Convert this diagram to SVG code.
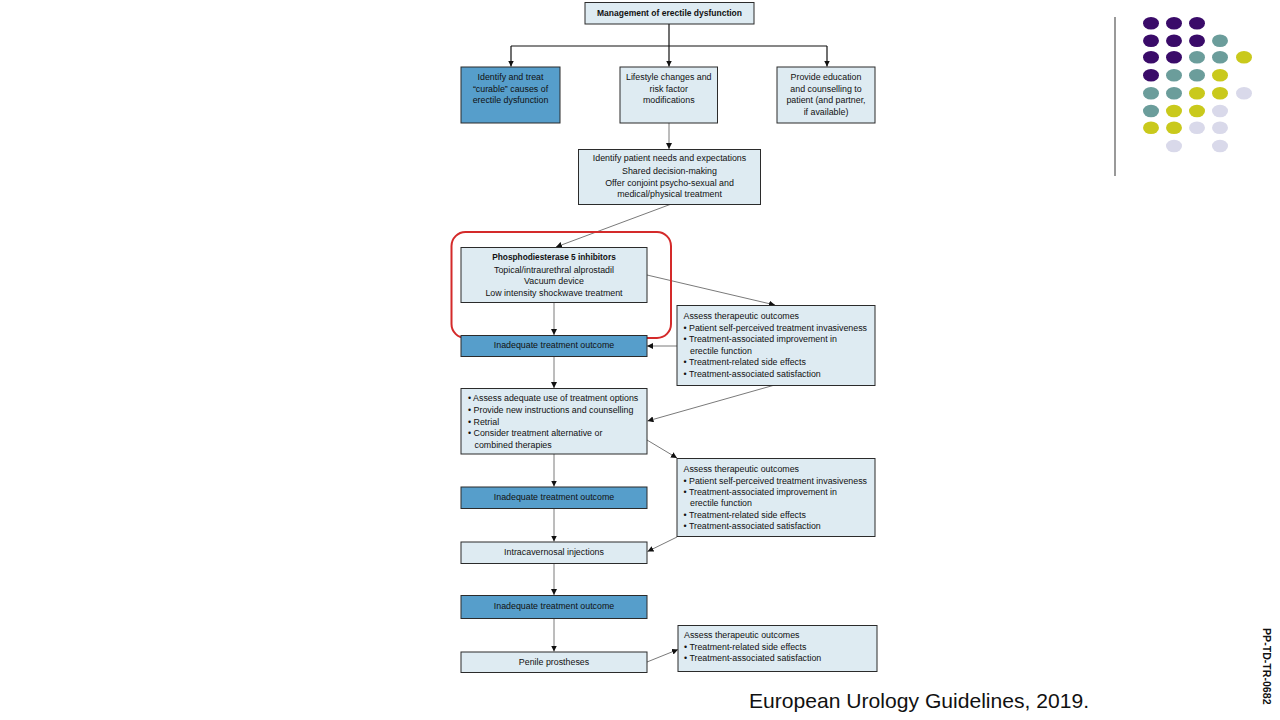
<svg xmlns="http://www.w3.org/2000/svg" width="1280" height="720" viewBox="0 0 1280 720">
<style>
.bg{fill:#ffffff}
.lt{fill:#deebf2;stroke:#2b2b2b;stroke-width:1}
.dk{fill:#569ecb;stroke:#2b2b2b;stroke-width:1}
.t{font-family:"Liberation Sans",Arial,sans-serif;font-size:8.85px;fill:#111}
.c{text-anchor:middle}
.b{font-weight:bold;font-size:8.3px}
.ln{stroke:#7a7a7a;stroke-width:1;fill:none}
.lk{stroke:#111;stroke-width:1.2;fill:none}
.pu{fill:#3a0b69}.te{fill:#6b9d9b}.ye{fill:#c9c91c}.la{fill:#d9d9ea}
</style>
<defs>
<marker id="ah" viewBox="0 0 10 10" refX="10" refY="5" markerWidth="6" markerHeight="6" orient="auto" markerUnits="userSpaceOnUse">
<path d="M0,0 L10,5 L0,10 z" fill="#111"/>
</marker>
</defs>
<rect class="bg" x="0" y="0" width="1280" height="720"/>

<g id="connectors">
<path class="lk" d="M669,24 V46"/>
<path class="lk" d="M511,46 H827"/>
<path class="lk" d="M511,46 V66.5" marker-end="url(#ah)"/>
<path class="lk" d="M669,46 V66.5" marker-end="url(#ah)"/>
<path class="lk" d="M827,46 V66.5" marker-end="url(#ah)"/>
<path class="ln" d="M669,123 V149" marker-end="url(#ah)"/>
<path class="ln" d="M670,204.5 L556,247" marker-end="url(#ah)"/>
<path class="ln" d="M554,302.5 V335" marker-end="url(#ah)"/>
<path class="ln" d="M647,275 L775,305" marker-end="url(#ah)"/>
<path class="ln" d="M677,346 H647" marker-end="url(#ah)"/>
<path class="ln" d="M554,356.5 V388" marker-end="url(#ah)"/>
<path class="ln" d="M773,385.5 L647.5,421" marker-end="url(#ah)"/>
<path class="ln" d="M647,440 L677,458" marker-end="url(#ah)"/>
<path class="ln" d="M554,454 V486.5" marker-end="url(#ah)"/>
<path class="ln" d="M554,508.5 V541.5" marker-end="url(#ah)"/>
<path class="ln" d="M677,537 L647.5,551.5" marker-end="url(#ah)"/>
<path class="ln" d="M554,563.5 V595" marker-end="url(#ah)"/>
<path class="ln" d="M554,618.5 V651.5" marker-end="url(#ah)"/>
<path class="ln" d="M647,662 L678,649.5" marker-end="url(#ah)"/>
</g>

<g id="n-title">
<rect class="lt" x="585" y="2.5" width="169" height="21.5"/>
<text class="t c b" x="669.5" y="16" style="font-size:8.5px">Management of erectile dysfunction</text>
</g>

<g id="n-curable">
<rect class="dk" x="461" y="67" width="99" height="56"/>
<text class="t c" x="510.5" y="80">Identify and treat</text>
<text class="t c" x="510.5" y="91.5">“curable” causes of</text>
<text class="t c" x="510.5" y="103">erectile dysfunction</text>
</g>

<g id="n-lifestyle">
<rect class="lt" x="620" y="67" width="97.5" height="56"/>
<text class="t c" x="668.75" y="80">Lifestyle changes and</text>
<text class="t c" x="668.75" y="91.5">risk factor</text>
<text class="t c" x="668.75" y="103">modifications</text>
</g>

<g id="n-education">
<rect class="lt" x="777" y="67" width="98" height="56"/>
<text class="t c" x="826" y="80">Provide education</text>
<text class="t c" x="826" y="91.5">and counselling to</text>
<text class="t c" x="826" y="103">patient (and partner,</text>
<text class="t c" x="826" y="114.5">if available)</text>
</g>

<g id="n-needs">
<rect class="lt" x="578.5" y="149.5" width="182" height="55"/>
<text class="t c" x="669.5" y="161">Identify patient needs and expectations</text>
<text class="t c" x="669.5" y="173.5">Shared decision-making</text>
<text class="t c" x="669.5" y="185.5">Offer conjoint psycho-sexual and</text>
<text class="t c" x="669.5" y="197">medical/physical treatment</text>
</g>

<g id="n-pde5">
<rect class="lt" x="461" y="247.5" width="186" height="55"/>
<text class="t c b" x="554" y="260">Phosphodiesterase 5 inhibitors</text>
<text class="t c" x="554" y="272.5">Topical/intraurethral alprostadil</text>
<text class="t c" x="554" y="284">Vacuum device</text>
<text class="t c" x="554" y="295.5">Low intensity shockwave treatment</text>
</g>

<g id="highlight">
<rect x="451.5" y="232" width="219.5" height="106" rx="14" ry="14" fill="none" stroke="#d42a2a" stroke-width="2"/>
</g>

<g id="n-inad1">
<rect class="dk" x="461" y="335.5" width="186" height="21"/>
<text class="t c" x="554" y="347.5">Inadequate treatment outcome</text>
</g>

<g id="n-assess1">
<rect class="lt" x="677" y="305.5" width="198" height="80"/>
<text class="t" x="683.5" y="318.5">Assess therapeutic outcomes</text>
<text class="t" x="683.5" y="330.5">• Patient self-perceived treatment invasiveness</text>
<text class="t" x="683.5" y="342">• Treatment-associated improvement in</text>
<text class="t" x="690" y="353.5">erectile function</text>
<text class="t" x="683.5" y="365">• Treatment-related side effects</text>
<text class="t" x="683.5" y="376.5">• Treatment-associated satisfaction</text>
</g>

<g id="n-adequate">
<rect class="lt" x="461" y="388.5" width="186" height="65.5"/>
<text class="t" x="468" y="401">• Assess adequate use of treatment options</text>
<text class="t" x="468" y="412.5">• Provide new instructions and counselling</text>
<text class="t" x="468" y="424.5">• Retrial</text>
<text class="t" x="468" y="436">• Consider treatment alternative or</text>
<text class="t" x="474.5" y="447.5">combined therapies</text>
</g>

<g id="n-assess2">
<rect class="lt" x="677" y="458.5" width="198" height="78"/>
<text class="t" x="683.5" y="471.5">Assess therapeutic outcomes</text>
<text class="t" x="683.5" y="483.5">• Patient self-perceived treatment invasiveness</text>
<text class="t" x="683.5" y="495">• Treatment-associated improvement in</text>
<text class="t" x="690" y="506">erectile function</text>
<text class="t" x="683.5" y="517.5">• Treatment-related side effects</text>
<text class="t" x="683.5" y="529">• Treatment-associated satisfaction</text>
</g>

<g id="n-inad2">
<rect class="dk" x="461" y="487" width="186" height="21.5"/>
<text class="t c" x="554" y="500">Inadequate treatment outcome</text>
</g>

<g id="n-ici">
<rect class="lt" x="461" y="542" width="186" height="21.5"/>
<text class="t c" x="554" y="555">Intracavernosal injections</text>
</g>

<g id="n-inad3">
<rect class="dk" x="461" y="595.5" width="186" height="23"/>
<text class="t c" x="554" y="609">Inadequate treatment outcome</text>
</g>

<g id="n-penile">
<rect class="lt" x="461" y="652" width="186" height="20.5"/>
<text class="t c" x="554" y="665">Penile prostheses</text>
</g>

<g id="n-assess3">
<rect class="lt" x="678" y="625.5" width="199" height="46"/>
<text class="t" x="684" y="638">Assess therapeutic outcomes</text>
<text class="t" x="684" y="649.5">• Treatment-related side effects</text>
<text class="t" x="684" y="661">• Treatment-associated satisfaction</text>
</g>

<g id="decoration">
<line x1="1115" y1="17" x2="1115" y2="176" stroke="#555" stroke-width="1.2"/>
<ellipse class="pu" cx="1151" cy="23.3" rx="8" ry="6.3"/>
<ellipse class="pu" cx="1174" cy="23.3" rx="8" ry="6.3"/>
<ellipse class="pu" cx="1197" cy="23.3" rx="8" ry="6.3"/>
<ellipse class="pu" cx="1151" cy="40.7" rx="8" ry="6.3"/>
<ellipse class="pu" cx="1174" cy="40.7" rx="8" ry="6.3"/>
<ellipse class="pu" cx="1197" cy="40.7" rx="8" ry="6.3"/>
<ellipse class="te" cx="1220" cy="40.7" rx="8" ry="6.3"/>
<ellipse class="pu" cx="1151" cy="57.3" rx="8" ry="6.3"/>
<ellipse class="pu" cx="1174" cy="57.3" rx="8" ry="6.3"/>
<ellipse class="te" cx="1197" cy="57.3" rx="8" ry="6.3"/>
<ellipse class="te" cx="1220" cy="57.3" rx="8" ry="6.3"/>
<ellipse class="ye" cx="1244" cy="57.3" rx="8" ry="6.3"/>
<ellipse class="pu" cx="1151" cy="75.3" rx="8" ry="6.3"/>
<ellipse class="te" cx="1174" cy="75.3" rx="8" ry="6.3"/>
<ellipse class="te" cx="1197" cy="75.3" rx="8" ry="6.3"/>
<ellipse class="ye" cx="1220" cy="75.3" rx="8" ry="6.3"/>
<ellipse class="te" cx="1151" cy="93.3" rx="8" ry="6.3"/>
<ellipse class="te" cx="1174" cy="93.3" rx="8" ry="6.3"/>
<ellipse class="ye" cx="1197" cy="93.3" rx="8" ry="6.3"/>
<ellipse class="ye" cx="1220" cy="93.3" rx="8" ry="6.3"/>
<ellipse class="la" cx="1244" cy="93.3" rx="8" ry="6.3"/>
<ellipse class="te" cx="1151" cy="111" rx="8" ry="6.3"/>
<ellipse class="ye" cx="1174" cy="111" rx="8" ry="6.3"/>
<ellipse class="ye" cx="1197" cy="111" rx="8" ry="6.3"/>
<ellipse class="la" cx="1220" cy="111" rx="8" ry="6.3"/>
<ellipse class="ye" cx="1151" cy="127.7" rx="8" ry="6.3"/>
<ellipse class="ye" cx="1174" cy="127.7" rx="8" ry="6.3"/>
<ellipse class="la" cx="1197" cy="127.7" rx="8" ry="6.3"/>
<ellipse class="la" cx="1220" cy="127.7" rx="8" ry="6.3"/>
<ellipse class="la" cx="1174" cy="146" rx="8" ry="6.3"/>
<ellipse class="la" cx="1220" cy="146" rx="8" ry="6.3"/>
</g>

<text x="749" y="708" font-family="Liberation Sans, Arial, sans-serif" font-size="21.1" fill="#111">European Urology Guidelines, 2019.</text>
<text transform="translate(1263,628) rotate(90)" font-family="Liberation Sans, Arial, sans-serif" font-size="10.6" font-weight="bold" fill="#111">PP-TD-TR-0682</text>
</svg>
